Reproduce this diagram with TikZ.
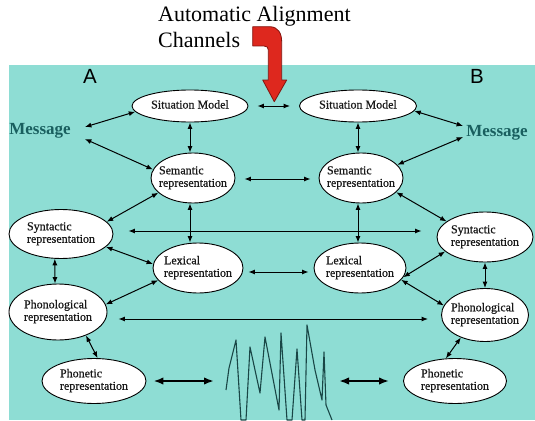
\documentclass[tikz,border=0pt]{standalone}
\usepackage{fontspec}
\setmainfont{Liberation Serif}
\setsansfont{Liberation Sans}
\newfontfamily\ellfont[FakeBold=0.6]{Liberation Serif}
\usetikzlibrary{shapes.geometric,arrows.meta,calc}
\definecolor{teal1}{RGB}{142,221,212}
\definecolor{msgcol}{RGB}{25,95,95}
\definecolor{wavecol}{RGB}{25,70,70}
\definecolor{redfill}{RGB}{222,40,30}
\definecolor{redline}{RGB}{130,20,15}
\newcommand\lbl[1]{\makebox[0pt]{\begin{tabular}{@{}l@{}}#1\end{tabular}}}
\begin{document}
\begin{tikzpicture}[x=1pt,y=-1pt,
 ell/.style={ellipse, draw=black, line width=0.9pt, fill=white, inner sep=0pt, font=\ellfont\fontsize{12}{12.5}\selectfont, text=black!90},
 dbl/.style={{Latex[length=6.5pt,width=5pt]}-{Latex[length=6.5pt,width=5pt]}, line width=1pt},
 bigdbl/.style={{Latex[length=10pt,width=7.5pt]}-{Latex[length=10pt,width=7.5pt]}, line width=2.2pt},
 msg/.style={font=\bfseries\fontsize{17}{18}\selectfont, text=msgcol, inner ysep=0pt},
 side/.style={font=\sffamily\fontsize{20.5}{22}\selectfont},
 ttl/.style={font=\fontsize{22}{24}\selectfont, anchor=base west, inner sep=0pt}]
\useasboundingbox (0,0) rectangle (535,420);
\fill[teal1] (9,65) rectangle (535,420);

% title
\node[ttl] (t1) at (158,22) {Automatic Alignment};
\node[ttl] (t2) at (158,48) {Channels};
\filldraw[fill=redfill, draw=redline, line width=0.8pt, line join=round]
  (252.7,26.7) -- (270,26.7) .. controls (278,27) and (281.7,33) .. (281.7,42)
  -- (281.7,80) -- (286.7,80) -- (274.3,101.7) -- (262.7,80) -- (268.3,80)
  -- (268.3,50) .. controls (268.3,47.5) and (267,46) .. (264,46) -- (252.7,46) -- cycle;

% side labels
\node[side] (labA) at (90,76) {A};
\node[side] (labB) at (477,76) {B};

% messages
\node[msg, inner xsep=14pt] (msgA) at (40,131) {Message};
\node[msg, inner xsep=3pt] (msgB) at (497,133) {Message};

% ellipses
\node[ell, minimum width=116pt, minimum height=32pt] (smA) at (190,106) {\lbl{Situation Model}};
\node[ell, minimum width=117pt, minimum height=32pt] (smB) at (358,106) {\lbl{Situation Model}};
\node[ell, minimum width=84pt, minimum height=50pt] (semA) at (193,178) {\lbl{Semantic\\representation}};
\node[ell, minimum width=84pt, minimum height=50pt] (semB) at (361,178) {\lbl{Semantic\\representation}};
\node[ell, minimum width=104pt, minimum height=49pt] (synA) at (61,234) {\lbl{Syntactic\\representation}};
\node[ell, minimum width=96pt, minimum height=50pt] (synB) at (485,237) {\lbl{Syntactic\\representation}};
\node[ell, minimum width=90pt, minimum height=50pt] (lexA) at (198,268) {\lbl{Lexical\\representation}};
\node[ell, minimum width=92pt, minimum height=50pt] (lexB) at (360,268) {\lbl{Lexical\\representation}};
\node[ell, minimum width=98pt, minimum height=56pt] (phonA) at (58,312) {\lbl{Phonological\\representation}};
\node[ell, minimum width=87pt, minimum height=53pt] (phonB) at (485,315) {\lbl{Phonological\\representation}};
\node[ell, minimum width=104pt, minimum height=45pt] (phnA) at (94,381) {\lbl{Phonetic\\representation}};
\node[ell, minimum width=103pt, minimum height=45pt] (phnB) at (455,381) {\lbl{Phonetic\\representation}};

% waveform
\coordinate (wl) at (214,381);
\coordinate (wr) at (339,381);
\draw[wavecol, line width=1.1pt, line join=round]
  (226,390) -- (229,368) -- (236,340) -- (241,420) -- (246,420) -- (250,347)
  -- (260,393) -- (265,337) -- (279,410) -- (281,333) -- (287,420) -- (292,420)
  -- (297,349) -- (302,420) -- (305,420) -- (307,325) -- (315,370) -- (322,400)
  -- (324,352) -- (326,405) -- (332,420);

% connectors A side
\draw[dbl] ([yshift=4pt]msgA.east) -- (smA.186);
\draw[dbl] ([yshift=-8pt]msgA.east) -- (semA.168);
\draw[dbl, shorten <=9pt, shorten >=9pt] (smA.east) -- (smB.west);
\draw[dbl] (smA.south) -- (smA.south |- semA.north);
\draw[dbl, shorten <=9pt, shorten >=8pt] ([yshift=-1pt]semA.east) -- ([yshift=-1pt]semB.west);
\draw[dbl] (semA.203) -- (synA.15);
\draw[dbl, shorten <=15pt, shorten >=15pt] ([yshift=3pt]synA.east) -- ([yshift=3pt]synA.east -| synB.west);
\draw[dbl] (semA.south -| smA.south) -- (smA.south |- lexA.north);
\draw[dbl] (synA.344) -- (lexA.175);
\draw[dbl, shorten <=5pt, shorten >=5pt] ([yshift=-4pt]lexA.east) -- ([yshift=-4pt]lexA.east -| lexB.west);
\draw[dbl] (synA.256) -- (phonA.96);
\draw[dbl] (lexA.197) -- (phonA.9);
\draw[dbl, shorten <=11pt, shorten >=13pt] ([yshift=-7pt]phonA.east) -- ([yshift=-7pt]phonA.east -| phonB.west);
\draw[dbl] (phonA.320) -- (phnA.81);
\draw[bigdbl, shorten <=7pt] (phnA.east) -- (wl);

% connectors B side
\draw[dbl] (smB.355) -- ([yshift=7pt]msgB.west);
\draw[dbl] (semB.20) -- ([yshift=-4pt]msgB.west);
\draw[dbl] (smB.south) -- (smB.south |- semB.north);
\draw[dbl] (semB.338) -- (synB.158);
\draw[dbl] (smB.south |- semB.south) -- (smB.south |- lexB.north);
\draw[dbl] (synB.200) -- (lexB.348);
\draw[dbl] (synB.south) -- (phonB.north);
\draw[dbl] (lexB.344) -- (phonB.167);
\draw[dbl] (phonB.223) -- (phnB.112);
\draw[bigdbl, shorten >=14pt] (wr) -- (phnB.west);
\end{tikzpicture}
\end{document}
